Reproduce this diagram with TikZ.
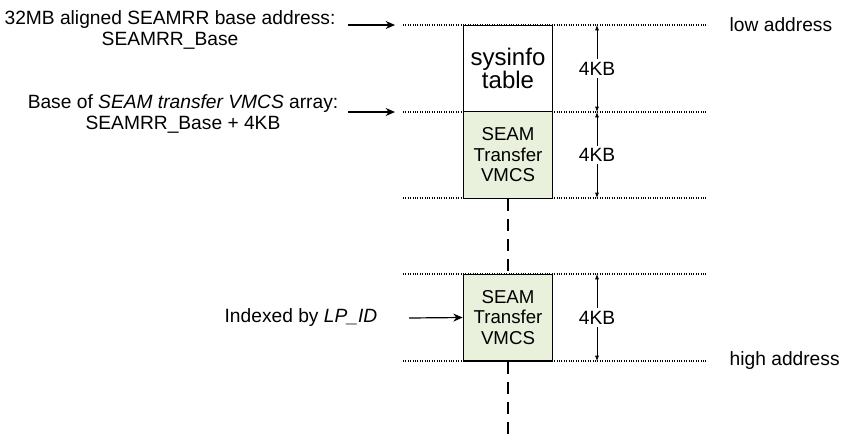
\documentclass[tikz,border=0pt]{standalone}
\usepackage{fontspec}
\setmainfont{Liberation Sans}
\usetikzlibrary{arrows.meta}
\definecolor{vmcsgreen}{HTML}{E9F0DC}

\begin{document}
\begin{tikzpicture}[x=0.75pt,y=-0.75pt,
  lvl/.style={densely dotted,line width=0.8pt},
  blk/.style={draw,line width=1pt,minimum width=67pt,minimum height=65pt,inner sep=0pt,align=center},
  ptr/.style={-{Stealth[length=7pt,width=6pt]},line width=0.9pt},
  dim/.style={{Latex[length=4pt,width=3pt]}-{Latex[length=4pt,width=3pt]},line width=0.5pt},
  txt/.style={font=\fontsize{14.4}{15.5}\selectfont,align=center}]
\useasboundingbox (0,0) rectangle (849,440);
% address levels
\foreach \y/\n in {25/l0,112/l1,198/l2,274/l3,361/l4}
  {\coordinate (\n w) at (403,\y); \coordinate (\n e) at (706,\y);
   \draw[lvl] (\n w) -- (\n e);}
% blocks
\node[blk,fill=white,font=\fontsize{18}{16.5}\selectfont] (sysinfo) at (508,68.5) {sysinfo\\table};
\node[blk,fill=vmcsgreen,font=\fontsize{14}{15.4}\selectfont] (vmcsA) at (508,155) {SEAM\\Transfer\\VMCS};
\node[blk,fill=vmcsgreen,font=\fontsize{14}{15.4}\selectfont] (vmcsB) at (508,317.5) {SEAM\\Transfer\\VMCS};
% gaps
\draw[dashed,dash pattern=on 9pt off 6pt,line width=0.8pt] (vmcsA.south) -- (vmcsB.north);
\coordinate (tail) at (508,440);
\draw[dashed,dash pattern=on 9pt off 6pt,line width=0.8pt] (vmcsB.south) -- (tail);
% sizes
\foreach \a/\b/\m in {25/112/s1,112/198/s2,274/361/s3}
  {\coordinate (\m t) at (597,\a); \coordinate (\m b) at (597,\b);
   \draw[dim] (\m t) -- node[fill=white,txt,inner sep=2pt] {4KB} (\m b);}
% labels
\node[txt] (base) at (170,30) {32MB aligned SEAMRR base address:\\SEAMRR\_Base};
\node[txt] (arr) at (183,114) {Base of \textit{SEAM transfer VMCS} array:\\SEAMRR\_Base + 4KB};
\node[txt,anchor=east] (idx) at (382,318) {Indexed by \textit{LP\_ID}};
\node[txt,anchor=west] (low) at (725,25) {low address};
\node[txt,anchor=west] (high) at (725,361) {high address};
% pointers
\coordinate (p0) at (348,25); \coordinate (q0) at (395,25);
\coordinate (p1) at (348,112); \coordinate (q1) at (395,112);
\coordinate (p2) at (409,318);
\draw[ptr] (p0) -- (q0);
\draw[ptr] (p1) -- (q1);
\draw[ptr] (p2) -- (vmcsB.west);
\end{tikzpicture}
\end{document}
